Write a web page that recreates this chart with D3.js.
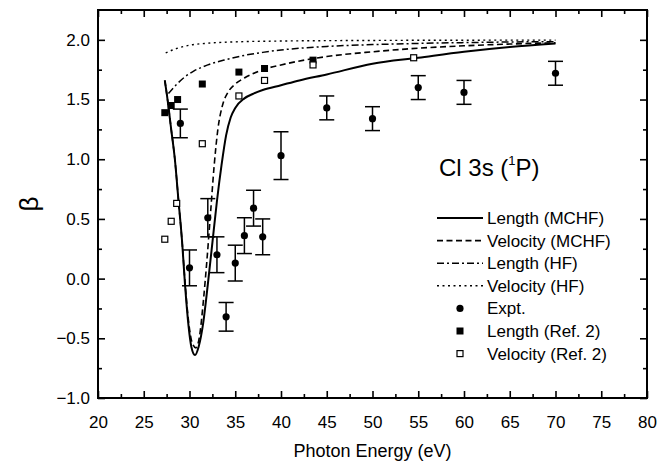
<!DOCTYPE html>
<html>
<head>
<meta charset="utf-8">
<script src="https://cdn.jsdelivr.net/npm/d3@7"></script>
<style>
  body { margin: 0; background: #fff; }
  svg { font-family: "Liberation Sans", Arial, sans-serif; }
</style>
</head>
<body>
<div id="chart"></div>
<script>
// --- Data ---
const lengthMCHF = [
  [27.3, 1.66], [27.6, 1.50], [28.0, 1.25], [28.4, 1.00], [28.8, 0.65], [29.2, 0.30],
  [29.5, -0.04], [29.9, -0.40], [30.2, -0.57], [30.6, -0.64], [31.0, -0.57], [31.5, -0.37],
  [32.0, -0.05], [32.5, 0.30], [33.0, 0.65], [33.5, 0.95], [34.0, 1.20], [34.5, 1.35],
  [35.0, 1.43], [36.0, 1.51], [37.0, 1.55], [38.0, 1.58], [40.0, 1.62], [42.0, 1.66],
  [45.0, 1.71], [50.0, 1.80], [55.0, 1.85], [60.0, 1.90], [65.0, 1.94], [70.0, 1.97]
];
const velocityMCHF = [
  [27.3, 1.66], [27.6, 1.50], [28.0, 1.25], [28.4, 1.00], [28.8, 0.65], [29.2, 0.30],
  [29.5, -0.02], [29.9, -0.36], [30.3, -0.54], [30.7, -0.58], [31.1, -0.48], [31.5, -0.20],
  [31.9, 0.15], [32.3, 0.55], [32.7, 0.95], [33.1, 1.25], [33.6, 1.45], [34.2, 1.56],
  [35.0, 1.63], [36.0, 1.68], [38.0, 1.75], [40.0, 1.79], [45.0, 1.86], [50.0, 1.90],
  [55.0, 1.93], [60.0, 1.95], [65.0, 1.965], [70.0, 1.975]
];
const lengthHF = [
  [27.7, 1.55], [28.5, 1.62], [29.5, 1.69], [30.5, 1.74], [32.0, 1.79], [34.0, 1.835],
  [36.0, 1.87], [38.0, 1.895], [40.0, 1.915], [45.0, 1.945], [50.0, 1.96], [55.0, 1.97],
  [60.0, 1.977], [65.0, 1.982], [70.0, 1.985]
];
const velocityHF = [
  [27.4, 1.89], [28.5, 1.925], [30.0, 1.955], [32.0, 1.972], [35.0, 1.983],
  [40.0, 1.99], [50.0, 1.995], [60.0, 1.997], [70.0, 1.998]
];

const exptEnergy = [29, 30, 32, 33, 34, 35, 36, 37, 38, 40, 45, 50, 55, 60, 70];
const exptBeta   = [1.30, 0.09, 0.51, 0.20, -0.32, 0.13, 0.36, 0.59, 0.35, 1.03, 1.43, 1.34, 1.60, 1.56, 1.72];
const exptError  = [0.12, 0.15, 0.16, 0.15, 0.12, 0.15, 0.15, 0.15, 0.15, 0.20, 0.10, 0.10, 0.10, 0.10, 0.10];

const ref2LengthEnergy = [27.3, 28.0, 28.7, 31.4, 35.4, 38.2, 43.5];
const ref2LengthBeta   = [1.39, 1.45, 1.50, 1.63, 1.73, 1.76, 1.83];
const ref2VelocityEnergy = [27.3, 28.0, 28.6, 31.4, 35.4, 38.2, 43.5, 54.5];
const ref2VelocityBeta   = [0.33, 0.48, 0.63, 1.13, 1.53, 1.66, 1.79, 1.85];

const xTicks = d3.range(20, 81, 5);
const yTicks = [-1.0, -0.5, 0.0, 0.5, 1.0, 1.5, 2.0];

// --- Dimensions ---
const width = 668;
const height = 463;
const margin = { top: 10, right: 21, bottom: 65, left: 98 };
const innerW = width - margin.left - margin.right;
const innerH = height - margin.top - margin.bottom;

const svg = d3.select("#chart").append("svg")
  .attr("width", width)
  .attr("height", height);

const g = svg.append("g").attr("transform", `translate(${margin.left}, ${margin.top})`);

// --- Scales ---
const x = d3.scaleLinear().domain([20, 80]).range([0, innerW]);
const y = d3.scaleLinear().domain([-1, 2.25]).range([innerH, 0]);

// --- Axes (ticks point inward, minor ticks between) ---
const xMinor = d3.range(22.5, 80, 5);
const yMinor = d3.range(-0.75, 2.25, 0.5);

function styleAxis(sel) {
  sel.select(".domain").remove();
  sel.selectAll("line").attr("stroke", "#000").attr("stroke-width", 1.6);
  sel.selectAll("text").attr("fill", "#000").attr("font-size", "17px");
}

g.append("g").attr("transform", `translate(0, ${innerH})`)
  .call(d3.axisBottom(x).tickValues(xTicks).tickSize(-7).tickPadding(18).tickFormat(d3.format("d")))
  .call(styleAxis);
g.append("g").attr("transform", `translate(0, ${innerH})`)
  .call(d3.axisBottom(x).tickValues(xMinor).tickSize(-4).tickFormat(""))
  .call(styleAxis);
g.append("g")
  .call(d3.axisTop(x).tickValues(xTicks).tickSize(-7).tickFormat(""))
  .call(styleAxis);
g.append("g")
  .call(d3.axisTop(x).tickValues(xMinor).tickSize(-4).tickFormat(""))
  .call(styleAxis);

g.append("g")
  .call(d3.axisLeft(y).tickValues(yTicks).tickSize(-7).tickPadding(8).tickFormat(d3.format(".1f")))
  .call(styleAxis);
g.append("g")
  .call(d3.axisLeft(y).tickValues(yMinor).tickSize(-4).tickFormat(""))
  .call(styleAxis);
g.append("g").attr("transform", `translate(${innerW}, 0)`)
  .call(d3.axisRight(y).tickValues(yTicks).tickSize(-7).tickFormat(""))
  .call(styleAxis);
g.append("g").attr("transform", `translate(${innerW}, 0)`)
  .call(d3.axisRight(y).tickValues(yMinor).tickSize(-4).tickFormat(""))
  .call(styleAxis);

// Frame
g.append("rect")
  .attr("width", innerW)
  .attr("height", innerH)
  .attr("fill", "none")
  .attr("stroke", "#000")
  .attr("stroke-width", 2);

// Axis titles
svg.append("text")
  .attr("x", margin.left + innerW / 2)
  .attr("y", 457)
  .attr("text-anchor", "middle")
  .attr("font-size", "18px")
  .text("Photon Energy (eV)");

svg.append("text")
  .attr("transform", `translate(38, ${margin.top + innerH / 2}) rotate(-90)`)
  .attr("text-anchor", "middle")
  .attr("font-size", "26px")
  .text("β");

// --- Curves ---
const line = d3.line()
  .x(d => x(d[0]))
  .y(d => y(d[1]))
  .curve(d3.curveMonotoneX);

const curves = [
  { data: velocityHF, dash: "2,3.5", width: 1.4 },
  { data: lengthHF, dash: "7,3,2,3", width: 1.5 },
  { data: velocityMCHF, dash: "6,3.5", width: 1.6 },
  { data: lengthMCHF, dash: null, width: 2 }
];

g.selectAll("path.curve")
  .data(curves)
  .join("path")
  .attr("class", "curve")
  .attr("d", d => line(d.data))
  .attr("fill", "none")
  .attr("stroke", "#000")
  .attr("stroke-width", d => d.width)
  .attr("stroke-dasharray", d => d.dash);

// --- Experimental points with error bars ---
const expt = exptEnergy.map((e, i) => ({ e, b: exptBeta[i], err: exptError[i] }));
const capW = 7.5;
const eb = g.selectAll("g.err").data(expt).join("g").attr("class", "err")
  .attr("stroke", "#000").attr("stroke-width", 1.5);
eb.append("line")
  .attr("x1", d => x(d.e)).attr("x2", d => x(d.e))
  .attr("y1", d => y(d.b - d.err)).attr("y2", d => y(d.b + d.err));
eb.append("line")
  .attr("x1", d => x(d.e) - capW).attr("x2", d => x(d.e) + capW)
  .attr("y1", d => y(d.b + d.err)).attr("y2", d => y(d.b + d.err));
eb.append("line")
  .attr("x1", d => x(d.e) - capW).attr("x2", d => x(d.e) + capW)
  .attr("y1", d => y(d.b - d.err)).attr("y2", d => y(d.b - d.err));
g.selectAll("circle.expt").data(expt).join("circle")
  .attr("class", "expt")
  .attr("cx", d => x(d.e)).attr("cy", d => y(d.b))
  .attr("r", 3.6).attr("fill", "#000");

// --- Ref. 2 squares ---
const sq = 7;
g.selectAll("rect.refL").data(ref2LengthEnergy.map((e, i) => [e, ref2LengthBeta[i]]))
  .join("rect").attr("class", "refL")
  .attr("x", d => x(d[0]) - sq / 2).attr("y", d => y(d[1]) - sq / 2)
  .attr("width", sq).attr("height", sq).attr("fill", "#000");

const osq = 6;
g.selectAll("rect.refV").data(ref2VelocityEnergy.map((e, i) => [e, ref2VelocityBeta[i]]))
  .join("rect").attr("class", "refV")
  .attr("x", d => x(d[0]) - osq / 2).attr("y", d => y(d[1]) - osq / 2)
  .attr("width", osq).attr("height", osq)
  .attr("fill", "#fff").attr("stroke", "#000").attr("stroke-width", 1.2);

// --- Legend ---
const title = svg.append("text")
  .attr("x", 439)
  .attr("y", 176)
  .attr("font-size", "24px");
title.append("tspan").text("Cl 3s (");
title.append("tspan").attr("font-size", "13px").attr("dy", -11).text("1");
title.append("tspan").attr("dy", 11).text("P)");

const legendItems = [
  { label: "Length (MCHF)", kind: "line", dash: null, width: 2 },
  { label: "Velocity (MCHF)", kind: "line", dash: "6,3.5", width: 1.6 },
  { label: "Length (HF)", kind: "line", dash: "7,3,2,3", width: 1.5 },
  { label: "Velocity (HF)", kind: "line", dash: "2,3.5", width: 1.4 },
  { label: "Expt.", kind: "circle" },
  { label: "Length (Ref. 2)", kind: "filled" },
  { label: "Velocity (Ref. 2)", kind: "open" }
];

const legend = svg.append("g").attr("transform", "translate(437, 218)");
const rows = legend.selectAll("g").data(legendItems).join("g")
  .attr("transform", (d, i) => `translate(0, ${i * 22.6})`);

rows.filter(d => d.kind === "line").append("line")
  .attr("x1", 0).attr("x2", 46).attr("y1", 0).attr("y2", 0)
  .attr("stroke", "#000")
  .attr("stroke-width", d => d.width)
  .attr("stroke-dasharray", d => d.dash);
rows.filter(d => d.kind === "circle").append("circle")
  .attr("cx", 23).attr("cy", 0).attr("r", 3.6).attr("fill", "#000");
rows.filter(d => d.kind === "filled").append("rect")
  .attr("x", 23 - sq / 2).attr("y", -sq / 2).attr("width", sq).attr("height", sq).attr("fill", "#000");
rows.filter(d => d.kind === "open").append("rect")
  .attr("x", 23 - osq / 2).attr("y", -osq / 2).attr("width", osq).attr("height", osq)
  .attr("fill", "#fff").attr("stroke", "#000").attr("stroke-width", 1.2);

rows.append("text")
  .attr("x", 50)
  .attr("y", 6)
  .attr("font-size", "17px")
  .text(d => d.label);
</script>
</body>
</html>
